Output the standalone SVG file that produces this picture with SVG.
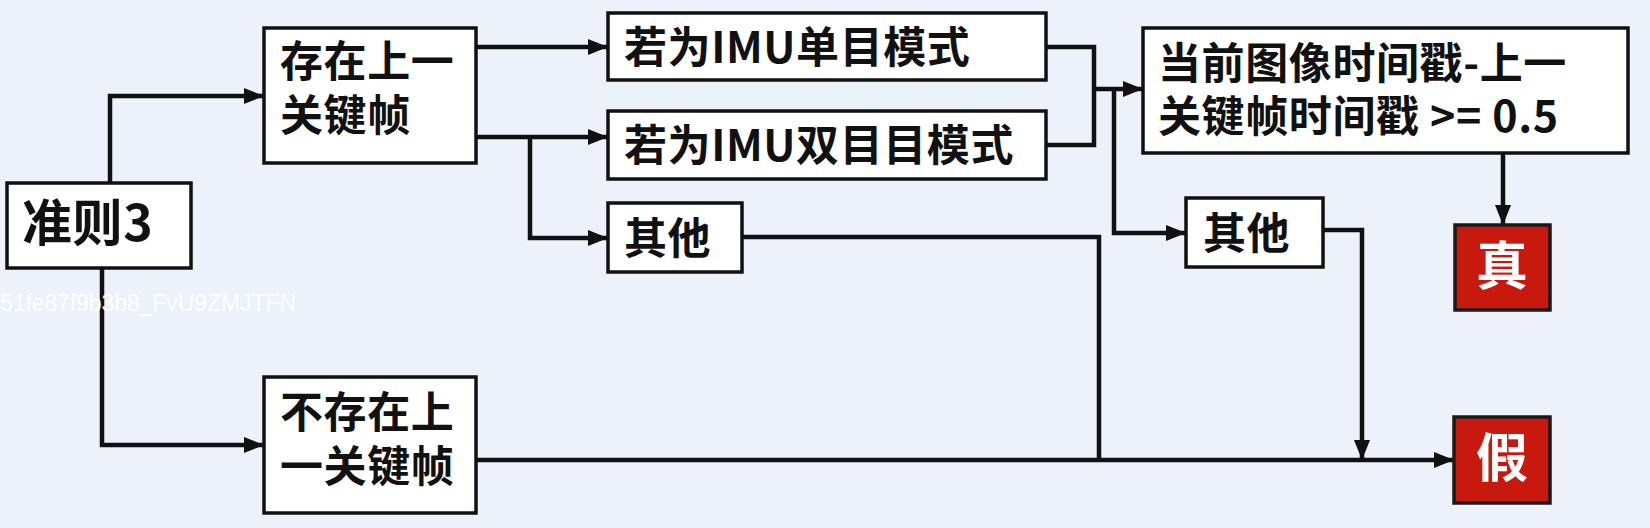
<svg xmlns="http://www.w3.org/2000/svg" width="1650" height="528" viewBox="0 0 1650 528">
<style>
.box{fill:#ffffff;stroke:#111111;stroke-width:3.5}
.red{fill:#c8190f;stroke:#1a1a1a;stroke-width:3.5}
.t{font-family:"Noto Sans CJK SC","Noto Sans",sans-serif;font-weight:bold;font-size:43px;letter-spacing:0.6px;fill:#111111}
.w{font-family:"Noto Sans CJK SC","Noto Sans",sans-serif;font-weight:bold;font-size:52px;fill:#ffffff;text-anchor:middle}
.c{fill:none;stroke:#111111;stroke-width:4.5}
</style>
<defs>
<marker id="ah" viewBox="0 0 20 16" refX="20" refY="8" markerWidth="20" markerHeight="16" markerUnits="userSpaceOnUse" orient="auto">
<path d="M0,0 L20,8 L0,16 Z" fill="#111111"/>
</marker>
</defs>
<rect width="1650" height="528" fill="#edf1f9"/>
<g id="connectors">
<path class="c" d="M110,183 V96 H264" marker-end="url(#ah)"/>
<path class="c" d="M102,268 V445 H264" marker-end="url(#ah)"/>
<path class="c" d="M476,47 H608" marker-end="url(#ah)"/>
<path class="c" d="M476,137 H608" marker-end="url(#ah)"/>
<path class="c" d="M530,137 V238 H608" marker-end="url(#ah)"/>
<path class="c" d="M1046,47 H1094 V145 H1046"/>
<path class="c" d="M1094,89 H1143" marker-end="url(#ah)"/>
<path class="c" d="M1114,89 V233 H1186" marker-end="url(#ah)"/>
<path class="c" d="M742,237 H1099 V460"/>
<path class="c" d="M476,460 H1454" marker-end="url(#ah)"/>
<path class="c" d="M1323,230 H1362 V460" marker-end="url(#ah)"/>
<path class="c" d="M1503,153 V225" marker-end="url(#ah)"/>
</g>
<g id="n_rule3">
<rect class="box" x="7" y="183" width="184" height="85"/>
<text class="t" x="22" y="241" style="font-size:50px">准则3</text>
</g>
<g id="n_exist">
<rect class="box" x="264" y="28" width="212" height="135"/>
<text class="t"><tspan x="280" y="77">存在上一</tspan><tspan x="280" y="131">关键帧</tspan></text>
</g>
<g id="n_noexist">
<rect class="box" x="264" y="377" width="212" height="136"/>
<text class="t"><tspan x="280" y="428">不存在上</tspan><tspan x="280" y="482">一关键帧</tspan></text>
</g>
<g id="n_mono">
<rect class="box" x="608" y="13" width="438" height="67"/>
<text class="t" x="624" y="63">若为IMU单目模式</text>
</g>
<g id="n_stereo">
<rect class="box" x="608" y="111" width="438" height="68"/>
<text class="t" x="624" y="161">若为IMU双目目模式</text>
</g>
<g id="n_other1">
<rect class="box" x="608" y="203" width="134" height="69"/>
<text class="t" x="624" y="254">其他</text>
</g>
<g id="n_time">
<rect class="box" x="1143" y="28" width="485" height="125"/>
<text class="t"><tspan x="1158" y="79">当前图像时间戳-上一</tspan><tspan x="1158" y="132">关键帧时间戳 &gt;= 0.5</tspan></text>
</g>
<g id="n_other2">
<rect class="box" x="1186" y="198" width="137" height="69"/>
<text class="t" x="1203" y="249">其他</text>
</g>
<g id="n_true">
<rect class="red" x="1455" y="225" width="95" height="85"/>
<text class="w" x="1502" y="285">真</text>
</g>
<g id="n_false">
<rect class="red" x="1454" y="417" width="96" height="86"/>
<text class="w" x="1502" y="477">假</text>
</g>
<text x="0" y="311" style="font-family:'Liberation Sans',sans-serif;font-size:23px;fill:#ffffff" textLength="296">51fe87f9b3b8_FvU9ZMJTFN</text>
</svg>
